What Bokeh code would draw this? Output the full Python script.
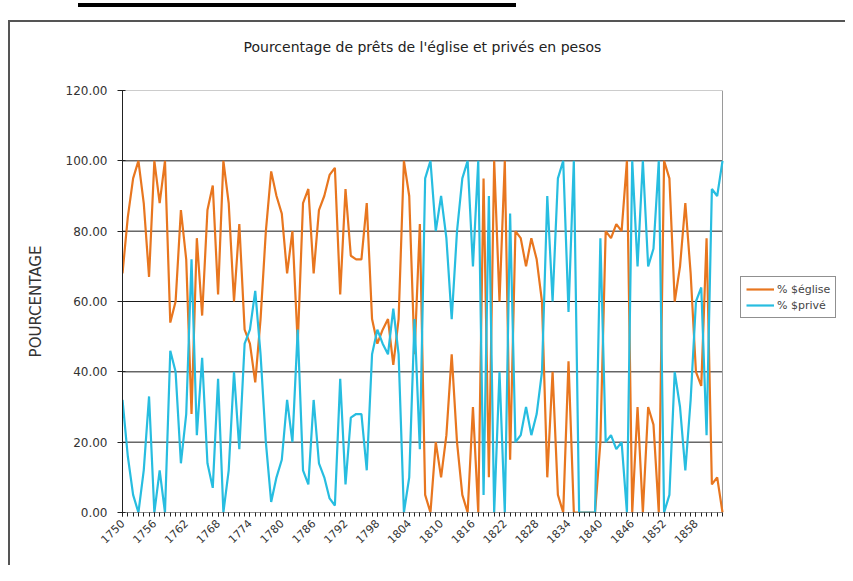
import math
from bokeh.plotting import figure
from bokeh.models import (FixedTicker, NumeralTickFormatter, Range1d, Legend,
                          LegendItem)
from bokeh.embed import file_html
from bokeh.resources import INLINE

title_text = "Pourcentage de prêts de l'église et privés en pesos"
y_label = "POURCENTAGE"
series_names = ["% $église", "% $privé"]

years = list(range(1750, 1864))
tick_years = [1750, 1756, 1762, 1768, 1774, 1780, 1786, 1792, 1798, 1804,
              1810, 1816, 1822, 1828, 1834, 1840, 1846, 1852, 1858]
y_ticks = [0, 20, 40, 60, 80, 100, 120]

eglise = [68, 84, 95, 100, 88, 67, 100, 88, 100, 54,
          60, 86, 72, 28, 78, 56, 86, 93, 62, 100,
          88, 60, 82, 52, 48, 37, 55, 80, 97, 90,
          85, 68, 80, 48, 88, 92, 68, 86, 90, 96,
          98, 62, 92, 73, 72, 72, 88, 55, 48, 52,
          55, 42, 55, 100, 90, 45, 82, 5, 0, 20,
          10, 22, 45, 20, 5, 0, 30, 0, 95, 10,
          100, 60, 100, 15, 80, 78, 70, 78, 72, 60,
          10, 40, 5, 0, 43, 0, 0, 0, 0, 0,
          20, 80, 78, 82, 80, 100, 0, 30, 0, 30,
          25, 0, 100, 95, 60, 70, 88, 68, 40, 36,
          78, 8, 10, 0]

prive = [32, 16, 5, 0, 12, 33, 0, 12, 0, 46,
         40, 14, 28, 72, 22, 44, 14, 7, 38, 0,
         12, 40, 18, 48, 52, 63, 45, 20, 3, 10,
         15, 32, 20, 52, 12, 8, 32, 14, 10, 4,
         2, 38, 8, 27, 28, 28, 12, 45, 52, 48,
         45, 58, 45, 0, 10, 55, 18, 95, 100, 80,
         90, 78, 55, 80, 95, 100, 70, 100, 5, 90,
         0, 40, 0, 85, 20, 22, 30, 22, 28, 40,
         90, 60, 95, 100, 57, 100, 0, 0, 0, 0,
         78, 20, 22, 18, 20, 0, 100, 70, 100, 70,
         75, 100, 0, 5, 40, 30, 12, 32, 60, 64,
         22, 92, 90, 100]

colors = ["#E8761F", "#27BDE0"]

W, H = 845, 565
FONT = "DejaVu Sans"

# plot area runs from x=122 to x=722; the frame is extended to the right
# edge so that the legend (outside the plot area) is not clipped.
AREA_LEFT, AREA_RIGHT = 122, 722
px_per_year = (AREA_RIGHT - AREA_LEFT) / (years[-1] - years[0])
x_end = years[0] + (W - AREA_LEFT) / px_per_year

p = figure(width=W, height=H, output_backend="svg", toolbar_location=None,
           x_range=Range1d(years[0], x_end), y_range=Range1d(0, 120),
           min_border_left=AREA_LEFT, min_border_right=0,
           min_border_top=90, min_border_bottom=H - 512,
           background_fill_alpha=0, border_fill_alpha=0)
p.outline_line_color = None

# chart-area border and the black rule above it, drawn as CSS backgrounds
p.styles = {
    "background-color": "white",
    "background-image": ("linear-gradient(#000000, #000000), "
                         "linear-gradient(#555555, #555555), "
                         "linear-gradient(#555555, #555555)"),
    "background-size": "438px 4px, 2px 600px, 900px 2px",
    "background-position": "78px 3px, 8px 20px, 8px 20px",
    "background-repeat": "no-repeat",
}

p.title.text = title_text
p.title.align = "left"
p.title.offset = 121
p.title.text_font = FONT
p.title.text_font_size = "14px"
p.title.text_font_style = "normal"
p.title.text_color = "#222222"
p.title.standoff = 72

# plot-area gridlines and frame edges
grid_y = y_ticks[1:-1]
p.segment(x0=[years[0]] * len(grid_y), x1=[years[-1]] * len(grid_y),
          y0=grid_y, y1=grid_y, line_color="#1a1a1a", line_width=1)
p.segment(x0=[years[0], years[-1]], x1=[years[-1], years[-1]],
          y0=[y_ticks[-1], 0], y1=[y_ticks[-1], y_ticks[-1]],
          line_color="#9a9a9a", line_width=1)

r1 = p.line(years, eglise, line_color=colors[0], line_width=2.2)
r2 = p.line(years, prive, line_color=colors[1], line_width=2.2)

p.segment(x0=[years[0]], x1=[years[-1]], y0=[0], y1=[0],
          line_color="#222222", line_width=1)

# axes
p.xaxis.ticker = FixedTicker(ticks=tick_years, minor_ticks=years)
p.xaxis.major_label_orientation = math.pi / 4
p.xaxis.axis_line_color = None
p.xaxis.major_tick_out = 4
p.xaxis.major_tick_in = 0
p.xaxis.minor_tick_out = 4
p.xaxis.minor_tick_in = 0
p.yaxis.ticker = FixedTicker(ticks=y_ticks)
p.yaxis.formatter = NumeralTickFormatter(format="0.00")
p.yaxis.axis_line_color = "#222222"
p.yaxis.major_tick_out = 5
p.yaxis.major_tick_in = 3
p.yaxis.minor_tick_out = 0
p.yaxis.minor_tick_in = 0
p.yaxis.major_label_standoff = 10
p.yaxis.axis_label = y_label
p.yaxis.axis_label_standoff = 18
for ax in (p.xaxis[0], p.yaxis[0]):
    ax.major_tick_line_color = "#222222"
    ax.minor_tick_line_color = "#222222"
    ax.major_label_text_font = FONT
    ax.major_label_text_color = "#333333"
p.yaxis.major_label_text_font_size = "12px"
p.xaxis.major_label_text_font_size = "11px"
p.yaxis.axis_label_text_font = FONT
p.yaxis.axis_label_text_font_size = "15px"
p.yaxis.axis_label_text_font_style = "normal"
p.yaxis.axis_label_text_color = "#333333"

p.xgrid.visible = False
p.ygrid.visible = False

legend = Legend(items=[LegendItem(label=series_names[0], renderers=[r1]),
                       LegendItem(label=series_names[1], renderers=[r2])],
                location=(740 - AREA_LEFT, 512 - 318))
legend.border_line_color = "#222222"
legend.border_line_width = 1
legend.background_fill_color = "white"
legend.label_text_font = FONT
legend.label_text_font_size = "11px"
legend.glyph_width = 28
legend.glyph_height = 14
legend.label_height = 14
legend.spacing = 2
legend.padding = 5
legend.margin = 0
legend.label_standoff = 3
p.add_layout(legend)

open("out.html", "w").write(file_html(p, INLINE))
